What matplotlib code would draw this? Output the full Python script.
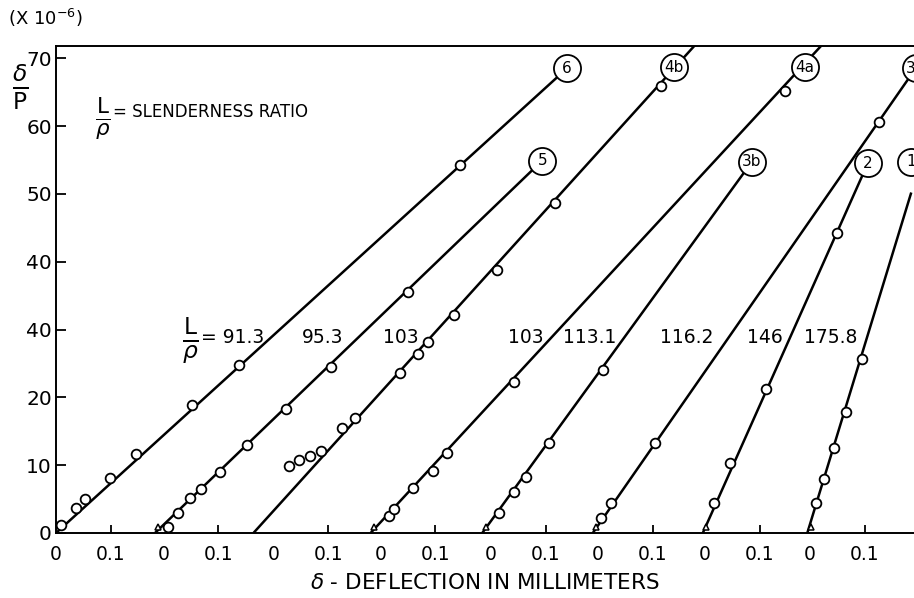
"""
Southwell plot of column deflection readings, one line per slenderness ratio
"""

import matplotlib.pyplot as plt
import numpy as np

# slenderness ratios and the circled specimen tags
ratios = ["91.3", "95.3", "103", "103", "113.1", "116.2", "146", "175.8"]
specimens = ["6", "5", "4b", "4a", "3b", "3a", "2", "1"]

# where each local zero sits on the shared deflection axis (mm)
origins = [0.0, 0.195, 0.395, 0.59, 0.79, 0.985, 1.18, 1.37]

# measured deflection (mm, from the local zero) and delta/P (x 10^-6)
delta_pts = [
    [0.009, 0.036, 0.053, 0.098, 0.145, 0.247, 0.333, 0.735],
    [0.009, 0.027, 0.049, 0.069, 0.104, 0.153, 0.224, 0.305, 0.445],
    [0.125, 0.149, 0.231, 0.264, 0.282, 0.329, 0.407, 0.513, 0.705],
    [0.015, 0.025, 0.060, 0.096, 0.120, 0.242, 0.735],
    [0.015, 0.042, 0.065, 0.107, 0.205],
    [0.005, 0.024, 0.104, 0.511],
    [0.016, 0.045, 0.111, 0.240],
    [0.011, 0.027, 0.044, 0.067, 0.095],
]
ratio_pts = [
    [1.2, 3.7, 5.0, 8.1, 11.7, 18.8, 24.8, 54.2],
    [0.9, 3.0, 5.2, 6.5, 9.0, 13.0, 18.3, 24.5, 35.6],
    [15.5, 17.0, 23.6, 26.4, 28.2, 32.2, 38.8, 48.7, 65.9],
    [2.5, 3.5, 6.6, 9.2, 11.8, 22.2, 65.1],
    [3.0, 6.1, 8.3, 13.3, 24.1],
    [2.2, 4.4, 13.3, 60.6],
    [4.4, 10.3, 21.3, 44.3],
    [4.4, 8.0, 12.6, 17.9, 25.6],
]

# early readings of specimen 4b that fall off its line
stray_delta = [0.029, 0.047, 0.067, 0.087]
stray_ratio = [9.9, 10.8, 11.4, 12.1]

# fitted lines: x intercept, then end point
line_start = [0.0, -0.015, -0.036, -0.018, -0.015, -0.009, -0.004, -0.004]
line_end_x = [0.929, 0.689, 0.790, 0.826, 0.475, 0.578, 0.296, 0.185]
line_end_y = [68.5, 54.9, 74.0, 74.0, 54.7, 68.5, 54.5, 50.2]
intercept_mark = [False, True, False, True, True, True, True, True]

# circled tag centres (local mm, delta/P)
tag_x = [0.929, 0.689, 0.729, 0.771, 0.475, 0.578, 0.296, 0.185]
tag_y = [68.5, 54.9, 68.7, 68.7, 54.7, 68.5, 54.5, 54.7]

# ratio label positions on the shared axis
label_x = [0.322, 0.485, 0.627, 0.855, 0.97, 1.147, 1.289, 1.408]
label_y = 28.8

yticks = [0, 10, 20, 30, 40, 50, 60, 70]
ytick_labels = ["0", "10", "20", "40", "40", "50", "60", "70"]

plt.rcParams["font.family"] = ["DejaVu Sans"]
plt.rcParams["mathtext.fontset"] = "dejavusans"

fig = plt.figure(figsize=(9.14, 5.98), dpi=100)
ax = fig.add_axes([56 / 914, 1 - 533 / 598, 858 / 914, 487 / 598])

for i in range(len(ratios)):
    off = origins[i]
    ax.plot(
        [off + line_start[i], off + line_end_x[i]],
        [0, line_end_y[i]],
        color="black",
        linewidth=1.8,
        solid_capstyle="butt",
        zorder=2,
    )
    ax.plot(
        off + np.array(delta_pts[i]),
        ratio_pts[i],
        "o",
        markerfacecolor="white",
        markeredgecolor="black",
        markersize=7,
        markeredgewidth=1.3,
        zorder=3,
    )
    if intercept_mark[i]:
        ax.plot(
            off + line_start[i] + 0.006,
            0.9,
            "^",
            markerfacecolor="white",
            markeredgecolor="black",
            markersize=4.5,
            markeredgewidth=1.1,
            zorder=3,
        )
    ax.scatter(
        off + tag_x[i],
        tag_y[i],
        s=380,
        facecolor="white",
        edgecolor="black",
        linewidth=1.3,
        zorder=5,
    )
    ax.text(
        off + tag_x[i],
        tag_y[i],
        specimens[i],
        ha="center",
        va="center",
        fontsize=11,
        zorder=6,
    )

ax.plot(
    origins[2] + np.array(stray_delta),
    stray_ratio,
    "o",
    markerfacecolor="white",
    markeredgecolor="black",
    markersize=7,
    markeredgewidth=1.3,
    zorder=3,
)

# slenderness ratio labels, the first one with its L/rho prefix
ax.text(
    0.245,
    28.4,
    r"$\frac{\mathrm{L}}{\rho}$",
    ha="center",
    va="center",
    fontsize=24,
)
for i, lab in enumerate(ratios):
    text = "= " + lab if i == 0 else lab
    ax.text(label_x[i], label_y, text, ha="center", va="center", fontsize=13.5)

ax.text(
    0.054,
    0.852,
    r"$\frac{\mathrm{L}}{\rho}$",
    transform=ax.transAxes,
    ha="center",
    va="center",
    fontsize=22,
)
ax.text(
    0.067,
    0.864,
    "= SLENDERNESS RATIO",
    transform=ax.transAxes,
    ha="left",
    va="center",
    fontsize=12,
)

ax.set_xlim(0, 858 / 550)
ax.set_ylim(0, 71.8)

ax.set_xticks(origins, labels=["0"] * len(origins))
ax.set_xticks(
    [o + 0.1 for o in origins], labels=["0.1"] * len(origins), minor=True
)
ax.tick_params(axis="x", which="major", length=0, pad=9, labelsize=13.5)
ax.tick_params(
    axis="x", which="minor", direction="in", length=6, width=1.3, pad=9,
    labelsize=13.5,
)
ax.set_yticks(yticks, labels=ytick_labels)
ax.tick_params(axis="y", direction="in", length=7, width=1.3, pad=3,
               labelsize=14.5)

for side in ["left", "bottom", "top"]:
    ax.spines[side].set_linewidth(1.4)
ax.spines["right"].set_visible(False)

ax.set_xlabel(r"$\delta$ - DEFLECTION IN MILLIMETERS", fontsize=15.5,
              labelpad=6)

fig.text(8 / 914, 1 - 18 / 598, r"(X 10$^{-6}$)", ha="left", va="center",
         fontsize=13)
fig.text(20 / 914, 1 - 87 / 598, r"$\frac{\delta}{\mathrm{P}}$",
         ha="center", va="center", fontsize=24)

fig.savefig("out.png", dpi=100)
